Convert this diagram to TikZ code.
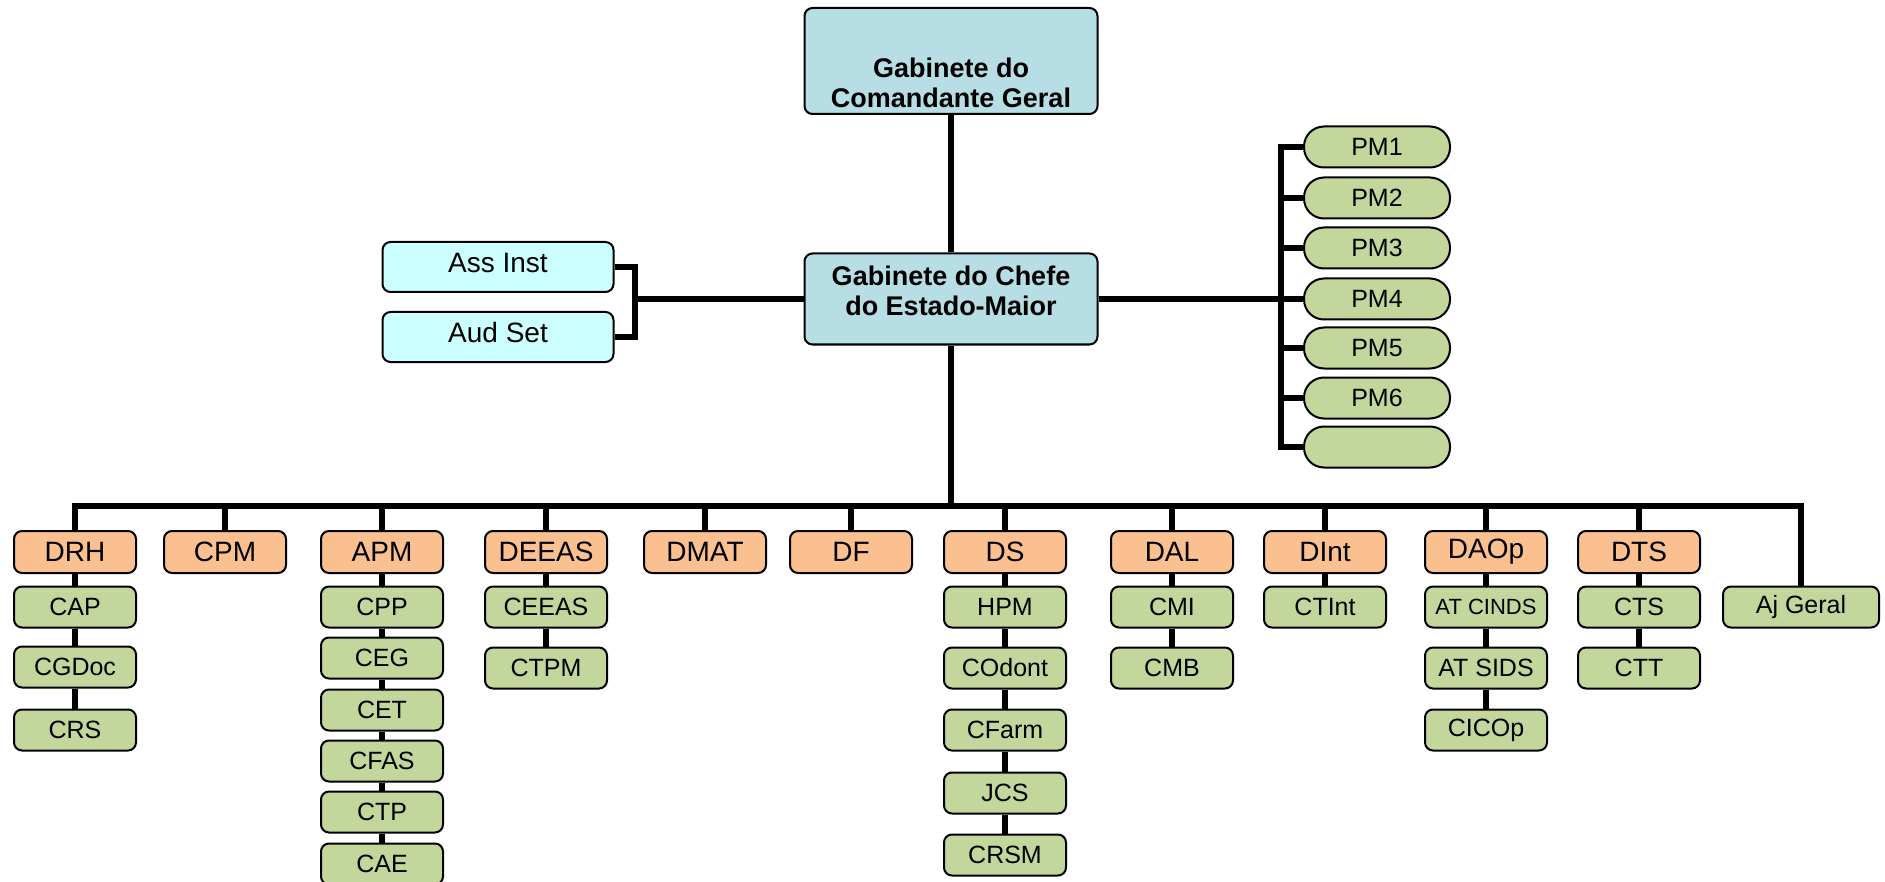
\documentclass[tikz,border=0pt]{standalone}
\usepackage{fontspec}
\setmainfont{Liberation Sans}
\usetikzlibrary{positioning}

\definecolor{gabblue}{RGB}{183,222,228}
\definecolor{asscyan}{RGB}{204,255,255}
\definecolor{dirorange}{RGB}{250,192,144}
\definecolor{secgreen}{RGB}{195,214,155}

\newcommand{\smalltxt}{\fontsize{11}{13}\selectfont}

\tikzset{
  box/.style={draw=black, line width=1pt, rounded corners=4pt, align=center, inner sep=0pt},
  gab/.style={box, fill=gabblue, minimum width=146.5pt},
  gabtext/.style={align=center, inner sep=0pt, font=\bfseries\fontsize{13.5}{15}\selectfont},
  assbox/.style={box, fill=asscyan, minimum width=115.5pt, minimum height=25pt, text height=10pt, text depth=4pt, font=\fontsize{14}{16}\selectfont},
  dir/.style={box, fill=dirorange, minimum width=61pt, minimum height=21pt, font=\fontsize{14}{16}\selectfont},
  sec/.style={box, fill=secgreen, minimum width=61pt, minimum height=20.5pt, font=\fontsize{12.5}{14}\selectfont},
  pmbox/.style={box, fill=secgreen, rounded corners=10pt, minimum width=73pt, minimum height=20.5pt, font=\fontsize{12.5}{14}\selectfont},
  conn/.style={line width=2.6pt}
}

\begin{document}
\begin{tikzpicture}[x=0.5pt, y=-0.5pt]
  \useasboundingbox (0,0) rectangle (1885,882);

  \node[gab, minimum height=53pt] (cmdgeral) at (951,61) {};
  \node[gabtext] (cmdtxt) at (951,83) {Gabinete do\\Comandante Geral};
  \node[gab, minimum height=45.5pt] (chefe) at (951,299) {};
  \node[gabtext] (chefetxt) at (951,291) {Gabinete do Chefe\\do Estado-Maior};

  \node[assbox] (assinst) at (498,267) {Ass Inst};
  \node[assbox] (audset) at (498,337) {Aud Set};

  \foreach \i/\yy/\txt in {1/147/PM1, 2/198/PM2, 3/248/PM3, 4/299/PM4, 5/348/PM5, 6/398/PM6, 7/447/{}}
    \node[pmbox] (pm\i) at (1377,\yy) {\txt};

  \coordinate (assbar) at (635,302);
  \coordinate (pmbar) at (1281,299);
  \coordinate (bus) at (951,506);

  \draw[conn] (cmdgeral) -- (chefe);
  \draw[conn] (assinst.east) -- (assinst.east -| assbar) -- (audset.east -| assbar) -- (audset.east);
  \draw[conn] (chefe.west) -- (chefe.west -| assbar);
  \draw[conn] (chefe.east) -- (pmbar);
  \draw[conn] (pm1.west) -- (pm1.west -| pmbar) -- (pm7.west -| pmbar) -- (pm7.west);
  \foreach \i in {2,...,6}
    \draw[conn] (pm\i.west) -- (pm\i.west -| pmbar);

  \foreach \nm/\txt/\xx in {drh/DRH/75, cpm/CPM/225, apm/APM/382, deeas/DEEAS/546, dmat/DMAT/705, df/DF/851, ds/DS/1005, dal/DAL/1172, dint/DInt/1325, daop/DAOp/1486, dts/DTS/1639}
    \node[dir] (\nm) at (\xx,552) {\txt};
  \node[sec, minimum width=78pt] (ajgeral) at (1801,607) {Aj Geral};

  \draw[conn] (chefe.south) -- (bus);
  \draw[conn] (drh.north) -- (drh.north |- bus) -| (ajgeral.north);
  \foreach \nm in {cpm, apm, deeas, dmat, df, ds, dal, dint, daop, dts}
    \draw[conn] (\nm.north) -- (\nm.north |- bus);

  \foreach \up/\nm/\txt/\yy in {drh/cap/CAP/607, cap/cgdoc/CGDoc/667, cgdoc/crs/CRS/730,
      apm/cpp/CPP/607, cpp/ceg/CEG/658, ceg/cet/CET/710, cet/cfas/CFAS/761, cfas/ctp/CTP/812, ctp/cae/CAE/864,
      deeas/ceeas/CEEAS/607, ceeas/ctpm/CTPM/668,
      ds/hpm/HPM/607, hpm/codont/COdont/668, codont/cfarm/CFarm/730, cfarm/jcs/JCS/793, jcs/crsm/CRSM/855,
      dal/cmi/CMI/607, cmi/cmb/CMB/668,
      dint/ctint/CTInt/607,
      daop/atcinds/{\smalltxt AT CINDS}/607, atcinds/atsids/AT SIDS/668, atsids/cicop/CICOp/730,
      dts/cts/CTS/607, cts/ctt/CTT/668} {
    \node[sec] (\nm) at (\up |- 0,\yy) {\txt};
    \draw[conn] (\up.south) -- (\nm.north);
  }
\end{tikzpicture}
\end{document}
